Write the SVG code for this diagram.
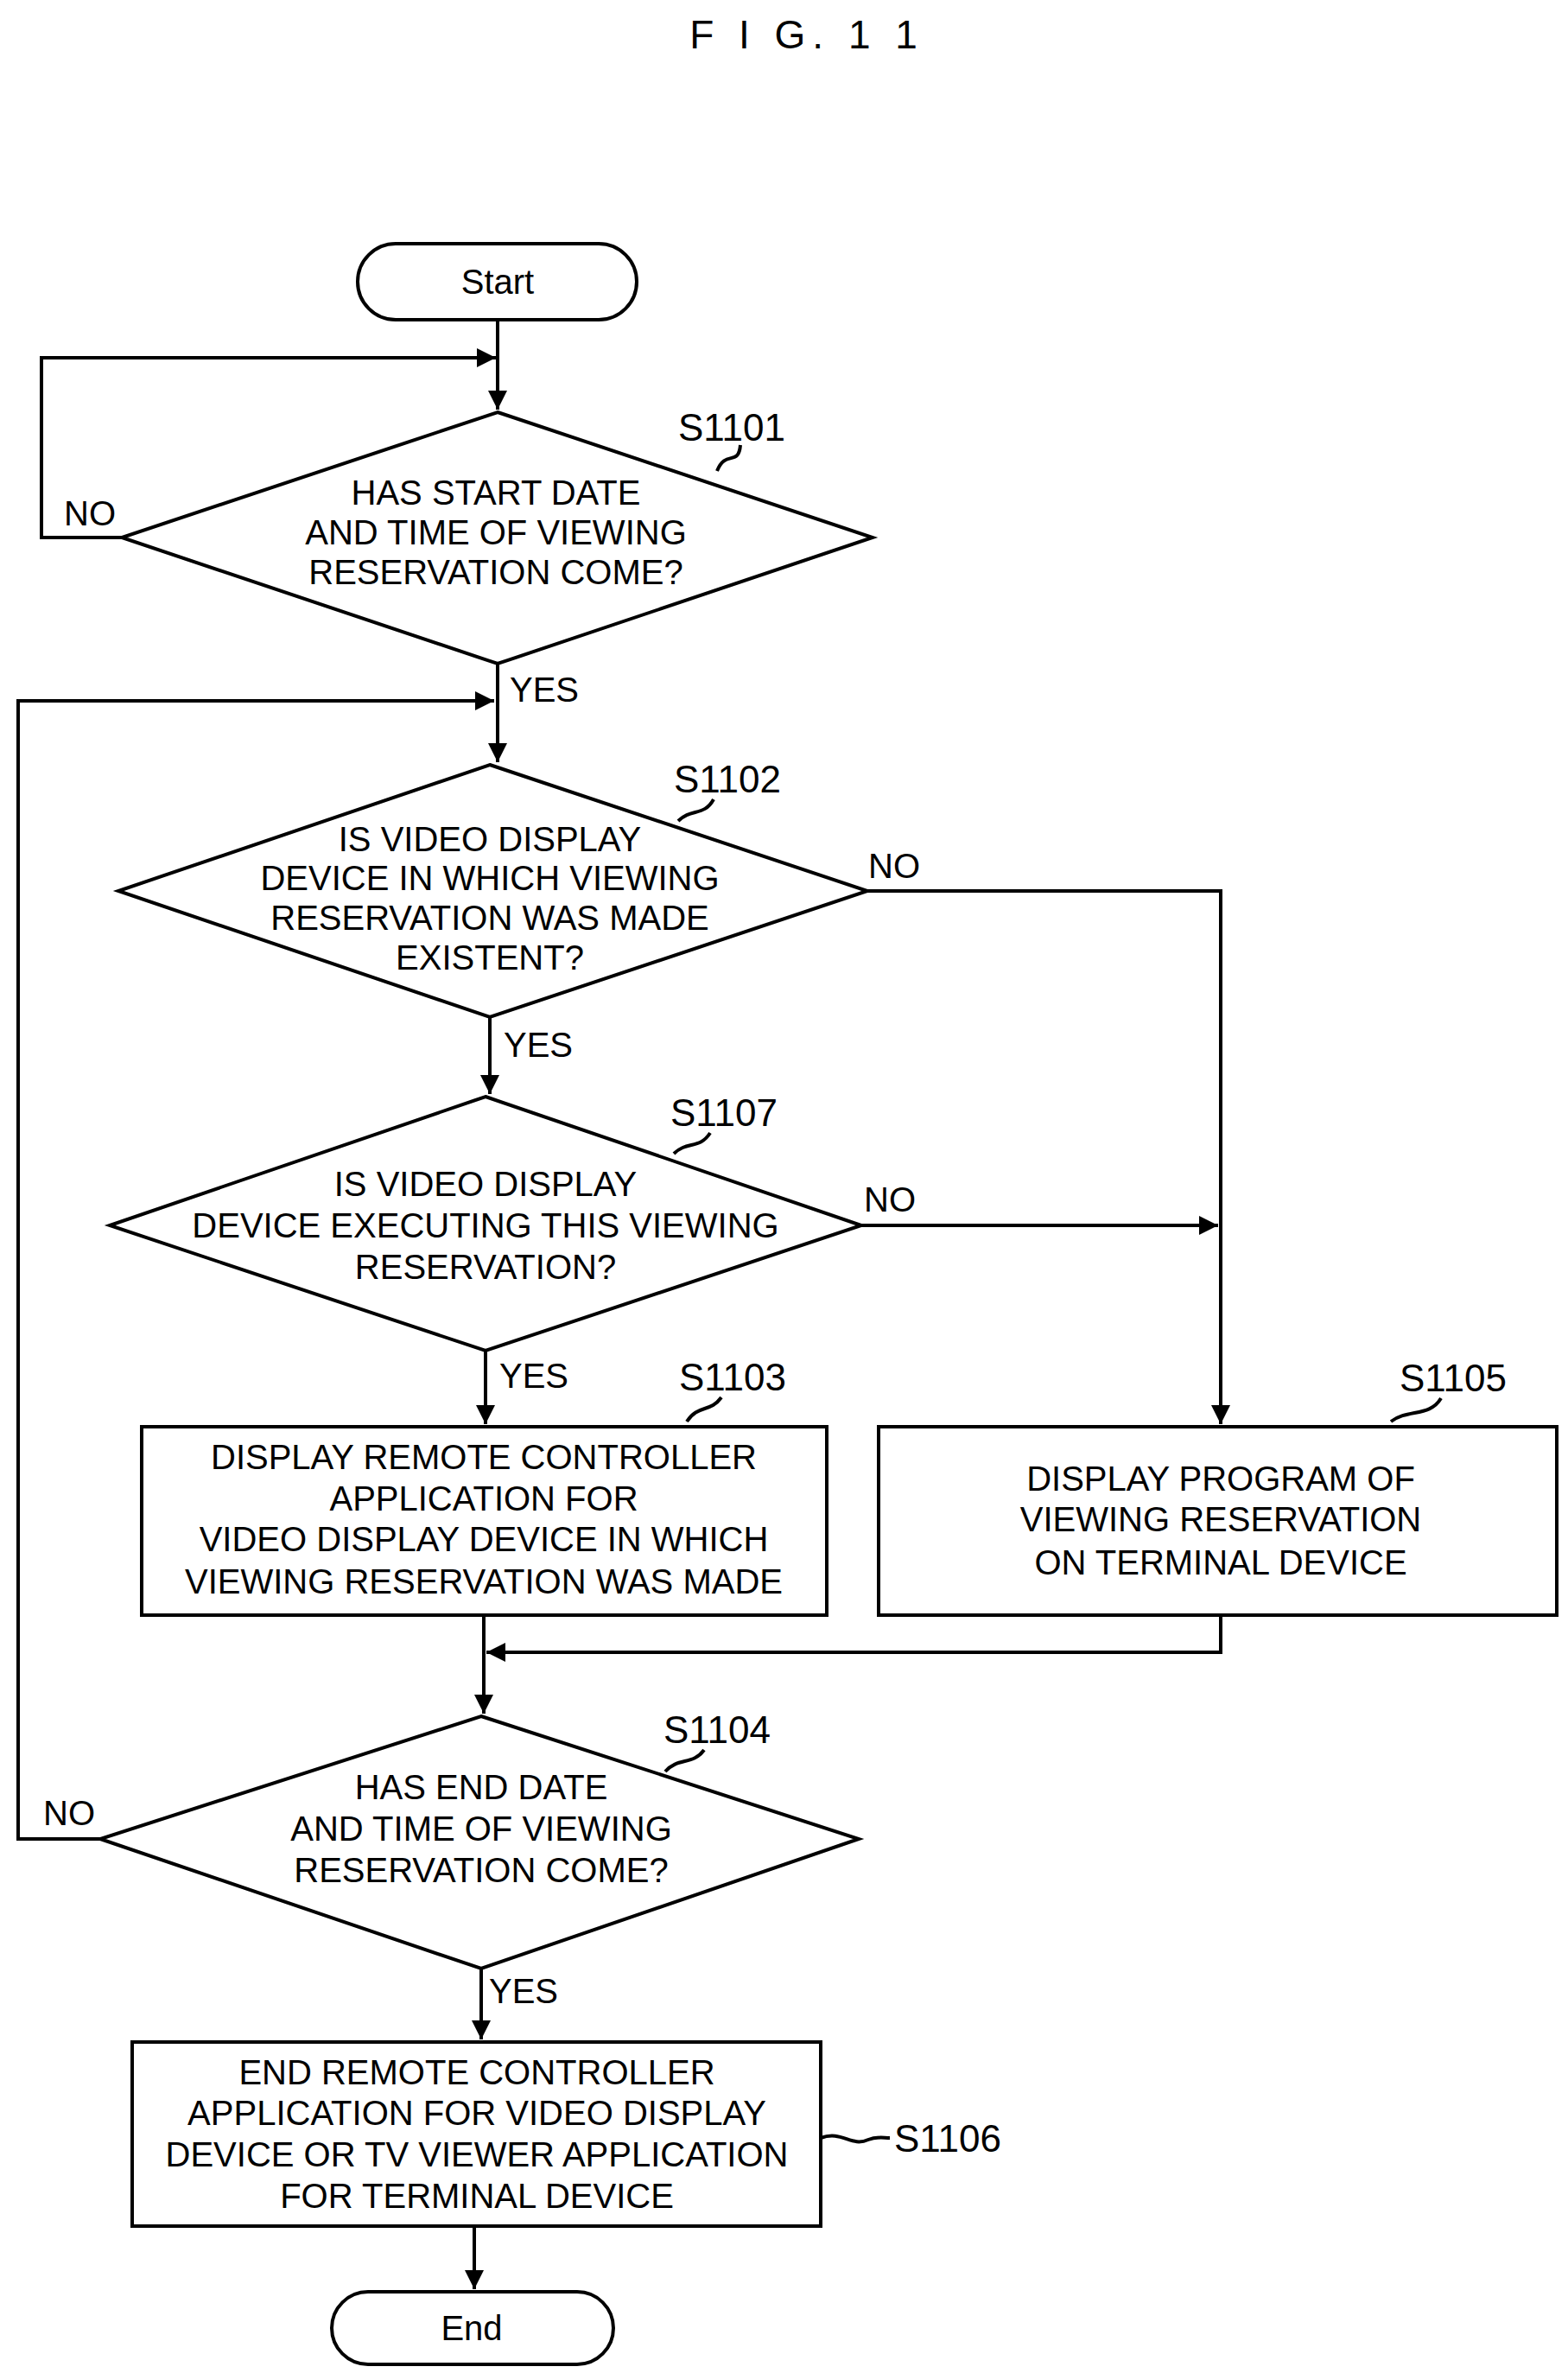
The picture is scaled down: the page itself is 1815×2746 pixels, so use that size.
<svg xmlns="http://www.w3.org/2000/svg" width="1815" height="2746" viewBox="0 0 1815 2746">
<style>
.s{fill:none;stroke:#000;stroke-width:4}
.c{fill:none;stroke:#000;stroke-width:4}
text{font-family:"Liberation Sans",Arial,sans-serif;font-size:40px;fill:#000}
.m{text-anchor:middle}
.l{font-size:44px}
</style>
<defs>
<marker id="b" viewBox="0 0 10 10" refX="10" refY="5" markerWidth="22" markerHeight="28" orient="auto" markerUnits="userSpaceOnUse"><path d="M0,0L10,5L0,10z" fill="#000"/></marker></defs>
<rect width="1815" height="2746" fill="#fff"/>
<text x="934" y="56" class="m" style="font-size:46px;letter-spacing:8px">F I G. 1 1</text>
<g id="start"><rect x="414" y="282" width="323" height="88" rx="44" class="s"/><text x="576" y="340" class="m">Start</text></g>
<g id="s1101"><path d="M576,477L1010,622L576,768L141,622Z" class="s"/>
<text x="574" y="584" class="m">HAS START DATE</text><text x="574" y="630" class="m">AND TIME OF VIEWING</text><text x="574" y="676" class="m">RESERVATION COME?</text>
<text x="785" y="510" class="l">S1101</text><path d="M857,515C855,540 840,520 830,545" class="c" stroke-width="2.5"/></g>
<g id="s1102"><path d="M567,885L1004,1031L567,1177L137,1031Z" class="s"/>
<text x="567" y="985" class="m">IS VIDEO DISPLAY</text><text x="567" y="1030" class="m">DEVICE IN WHICH VIEWING</text><text x="567" y="1076" class="m">RESERVATION WAS MADE</text><text x="567" y="1122" class="m">EXISTENT?</text>
<text x="780" y="917" class="l">S1102</text><path d="M826,925C815,945 800,935 785,950" class="c" stroke-width="2.5"/></g>
<g id="s1107"><path d="M562,1269L997,1418L562,1563L127,1418Z" class="s"/>
<text x="562" y="1384" class="m">IS VIDEO DISPLAY</text><text x="562" y="1432" class="m">DEVICE EXECUTING THIS VIEWING</text><text x="562" y="1480" class="m">RESERVATION?</text>
<text x="776" y="1303" class="l">S1107</text><path d="M822,1311C810,1330 795,1320 780,1335" class="c" stroke-width="2.5"/></g>
<g id="s1103"><rect x="164" y="1651" width="793" height="218" class="s"/>
<text x="560" y="1700" class="m">DISPLAY REMOTE CONTROLLER</text><text x="560" y="1748" class="m">APPLICATION FOR</text><text x="560" y="1795" class="m">VIDEO DISPLAY DEVICE IN WHICH</text><text x="560" y="1844" class="m">VIEWING RESERVATION WAS MADE</text>
<text x="786" y="1609" class="l">S1103</text><path d="M835,1617C822,1635 808,1625 795,1645" class="c" stroke-width="2.5"/></g>
<g id="s1105"><rect x="1017" y="1651" width="785" height="218" class="s"/>
<text x="1413" y="1725" class="m">DISPLAY PROGRAM OF</text><text x="1413" y="1772" class="m">VIEWING RESERVATION</text><text x="1413" y="1822" class="m">ON TERMINAL DEVICE</text>
<text x="1620" y="1610" class="l">S1105</text><path d="M1668,1618C1655,1640 1630,1630 1610,1645" class="c" stroke-width="2.5"/></g>
<g id="s1104"><path d="M557,1986L994,2128L557,2278L116,2128Z" class="s"/>
<text x="557" y="2082" class="m">HAS END DATE</text><text x="557" y="2130" class="m">AND TIME OF VIEWING</text><text x="557" y="2178" class="m">RESERVATION COME?</text>
<text x="768" y="2017" class="l">S1104</text><path d="M815,2025C802,2043 785,2033 770,2050" class="c" stroke-width="2.5"/></g>
<g id="s1106"><rect x="153" y="2363" width="797" height="213" class="s"/>
<text x="552" y="2412" class="m">END REMOTE CONTROLLER</text><text x="552" y="2459" class="m">APPLICATION FOR VIDEO DISPLAY</text><text x="552" y="2507" class="m">DEVICE OR TV VIEWER APPLICATION</text><text x="552" y="2555" class="m">FOR TERMINAL DEVICE</text>
<text x="1035" y="2490" class="l">S1106</text><path d="M950,2474C975,2465 985,2485 1005,2476C1015,2472 1022,2474 1030,2474" class="c" stroke-width="2.5"/></g>
<g id="end"><rect x="384" y="2652" width="326" height="84" rx="42" class="s"/><text x="546" y="2708" class="m">End</text></g>
<g id="connectors" class="c">
<path d="M576,370V474" marker-end="url(#b)"/>
<path d="M141,622H48V414H574" marker-end="url(#b)"/>
<path d="M576,768V882" marker-end="url(#b)"/>
<path d="M116,2128H21V811H572" marker-end="url(#b)"/>
<path d="M567,1177V1266" marker-end="url(#b)"/>
<path d="M1004,1031H1413V1648" marker-end="url(#b)"/>
<path d="M997,1418H1410" marker-end="url(#b)"/>
<path d="M562,1563V1648" marker-end="url(#b)"/>
<path d="M560,1869V1983" marker-end="url(#b)"/>
<path d="M1413,1869V1912H563" marker-end="url(#b)"/>
<path d="M557,2278V2360" marker-end="url(#b)"/>
<path d="M549,2576V2649" marker-end="url(#b)"/>
</g>
<text x="74" y="608">NO</text><text x="590" y="812">YES</text>
<text x="1005" y="1016">NO</text><text x="583" y="1223">YES</text>
<text x="1000" y="1402">NO</text><text x="578" y="1606">YES</text>
<text x="50" y="2112">NO</text><text x="566" y="2318">YES</text>
</svg>
